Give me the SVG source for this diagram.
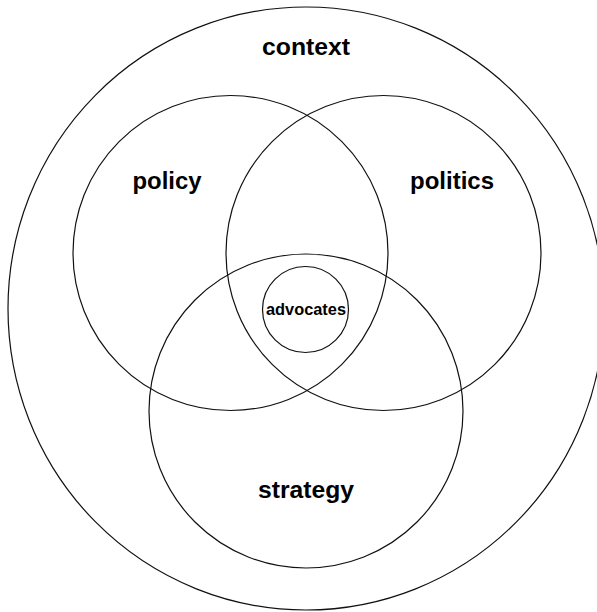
<svg xmlns="http://www.w3.org/2000/svg" width="597" height="612" viewBox="0 0 597 612">
  <style>
    .ring { fill: none; stroke: #111; stroke-width: 1.2; }
    .label { font-family: "Liberation Sans", Arial, sans-serif; font-weight: bold; fill: #000; text-anchor: middle; }
  </style>
  <rect width="597" height="612" fill="#fff"/>
  <g id="context">
    <ellipse class="ring" cx="306" cy="308.5" rx="298" ry="301.5"/>
    <text class="label" x="306" y="55" font-size="23" textLength="88" lengthAdjust="spacingAndGlyphs">context</text>
  </g>
  <g id="policy">
    <circle class="ring" cx="230.5" cy="253" r="157.5"/>
    <text class="label" x="167" y="189" font-size="23" textLength="69" lengthAdjust="spacingAndGlyphs">policy</text>
  </g>
  <g id="politics">
    <circle class="ring" cx="383.5" cy="253" r="157.5"/>
    <text class="label" x="452" y="189" font-size="23" textLength="84" lengthAdjust="spacingAndGlyphs">politics</text>
  </g>
  <g id="strategy">
    <circle class="ring" cx="306" cy="411" r="157"/>
    <text class="label" x="306" y="498" font-size="23" textLength="96" lengthAdjust="spacingAndGlyphs">strategy</text>
  </g>
  <g id="advocates">
    <circle class="ring" cx="305.5" cy="309.5" r="43"/>
    <text class="label" x="306" y="314.5" font-size="17" textLength="80" lengthAdjust="spacingAndGlyphs">advocates</text>
  </g>
  <g id="connectors"/>
</svg>
